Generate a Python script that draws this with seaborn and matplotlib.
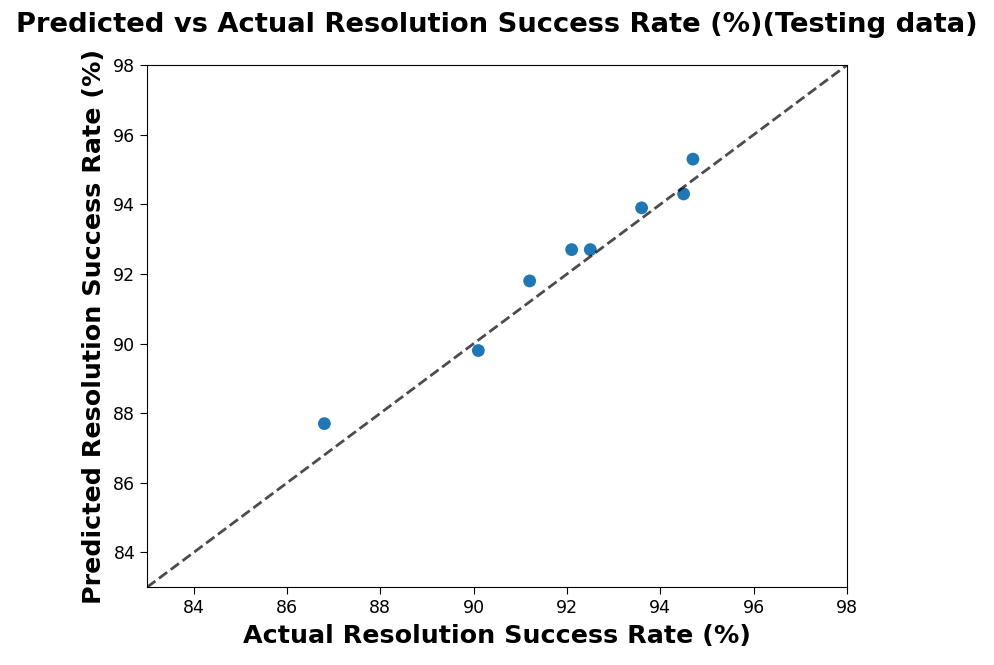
import matplotlib
matplotlib.use("Agg")
import matplotlib.pyplot as plt
import seaborn as sns
import pandas as pd

# testing data
actual = [86.8, 90.1, 91.2, 92.1, 92.5, 93.6, 94.5, 94.7]
predicted = [87.7, 89.8, 91.8, 92.7, 92.7, 93.9, 94.3, 95.3]
ticks = [84, 86, 88, 90, 92, 94, 96, 98]
lims = [83, 98]

df = pd.DataFrame({"Actual": actual, "Predicted": predicted})

sns.set_style("ticks")
plt.rcParams['font.family'] = ['DejaVu Sans']
plt.rcParams['text.color'] = 'black'
plt.rcParams['axes.labelcolor'] = 'black'
plt.rcParams['xtick.color'] = 'black'
plt.rcParams['ytick.color'] = 'black'

fig = plt.figure(figsize=(9.94, 6.65), dpi=100)
ax = fig.add_axes([0.148, 0.117, 0.704, 0.785])

sns.scatterplot(data=df, x="Actual", y="Predicted", s=85, color="#1f77b4",
                edgecolor="none", ax=ax)
ax.plot(lims, lims, linestyle="--", color="black", alpha=0.7, linewidth=2)

ax.set_xlim(lims)
ax.set_ylim(lims)
ax.set_xticks(ticks)
ax.set_yticks(ticks)
ax.tick_params(labelsize=12.5, length=5)
for s in ax.spines.values():
    s.set_visible(True)
    s.set_color("black")

ax.set_xlabel("Actual Resolution Success Rate (%)", fontsize=18.3, fontweight="bold",
              labelpad=5)
ax.set_ylabel("Predicted Resolution Success Rate (%)", fontsize=18.3, fontweight="bold",
              labelpad=5)
ax.set_title("Predicted vs Actual Resolution Success Rate (%)(Testing data)",
             fontsize=19.7, fontweight="bold", pad=24)

fig.savefig("out.png", dpi=100)
